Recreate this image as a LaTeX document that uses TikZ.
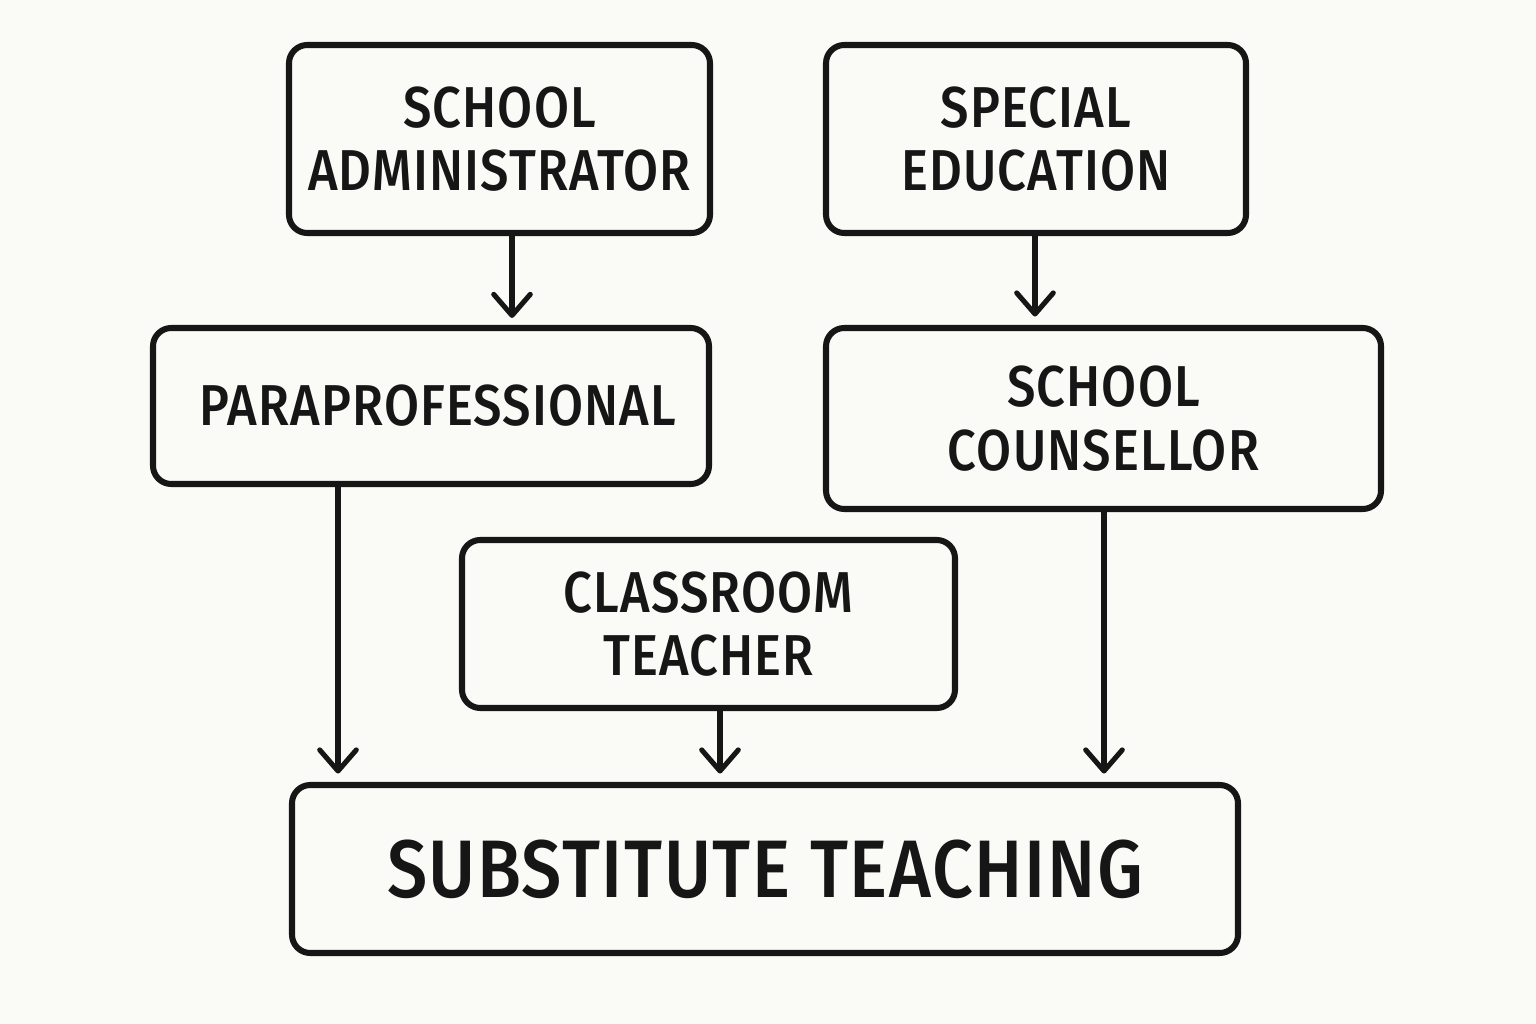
\documentclass[tikz,border=0pt]{standalone}
\usepackage{fontspec}
\setmainfont{Fira Sans}[FakeStretch=0.88, LetterSpace=2, BoldFont={Fira Sans Medium}]
\usetikzlibrary{arrows.meta,positioning}
\definecolor{paper}{RGB}{250,250,246}
\definecolor{ink}{RGB}{22,22,22}
\newcommand{\pxu}{0.025cm}
\tikzset{
  box/.style={draw=ink, line width=4.3pt, rounded corners=13pt, inner sep=0pt,
    align=center, text=ink, font=\bfseries\fontsize{41}{45}\selectfont},
  bigbox/.style={box, font=\bfseries\fontsize{58}{60}\selectfont},
  arr/.style={draw=ink, line width=3.6pt,
    -{Straight Barb[round, length=15pt, width=26pt, line width=3.6pt]}}
}
\begin{document}
\begin{tikzpicture}[x=0.025cm,y=-0.025cm]
% background
\fill[paper] (0,0) rectangle (1536,1024);
% The boxes
\node[box, minimum width=421*\pxu, minimum height=188*\pxu] (admin) at (499.5,139) {SCHOOL\\ADMINISTRATOR};
\node[box, minimum width=420*\pxu, minimum height=188*\pxu] (sped) at (1036,139) {SPECIAL\\EDUCATION};
\node[box, minimum width=556*\pxu, minimum height=156*\pxu] (para) at (431,406) {\hspace*{10pt}PARAPROFESSIONAL};
\node[box, minimum width=555*\pxu, minimum height=181*\pxu] (couns) at (1103.5,418.5) {SCHOOL\\COUNSELLOR};
\node[box, minimum width=493*\pxu, minimum height=168*\pxu] (class) at (708.5,624) {CLASSROOM\\TEACHER};
\node[bigbox, minimum width=946*\pxu, minimum height=168*\pxu] (subst) at (765,869) {SUBSTITUTE TEACHING};
% arrow columns
\coordinate (c1) at (512,0);
\coordinate (c2) at (1035,0);
\coordinate (c3) at (338,0);
\coordinate (c4) at (720,0);
\coordinate (c5) at (1104,0);
% Arrows
\draw[arr, shorten >=5pt] (admin.south -| c1) -- (para.north -| c1);
\draw[arr, shorten >=6pt] (sped.south -| c2) -- (couns.north -| c2);
\draw[arr, shorten >=6pt] (para.south -| c3) -- (subst.north -| c3);
\draw[arr, shorten >=6pt] (class.south -| c4) -- (subst.north -| c4);
\draw[arr, shorten >=6pt] (couns.south -| c5) -- (subst.north -| c5);
\end{tikzpicture}
\end{document}
